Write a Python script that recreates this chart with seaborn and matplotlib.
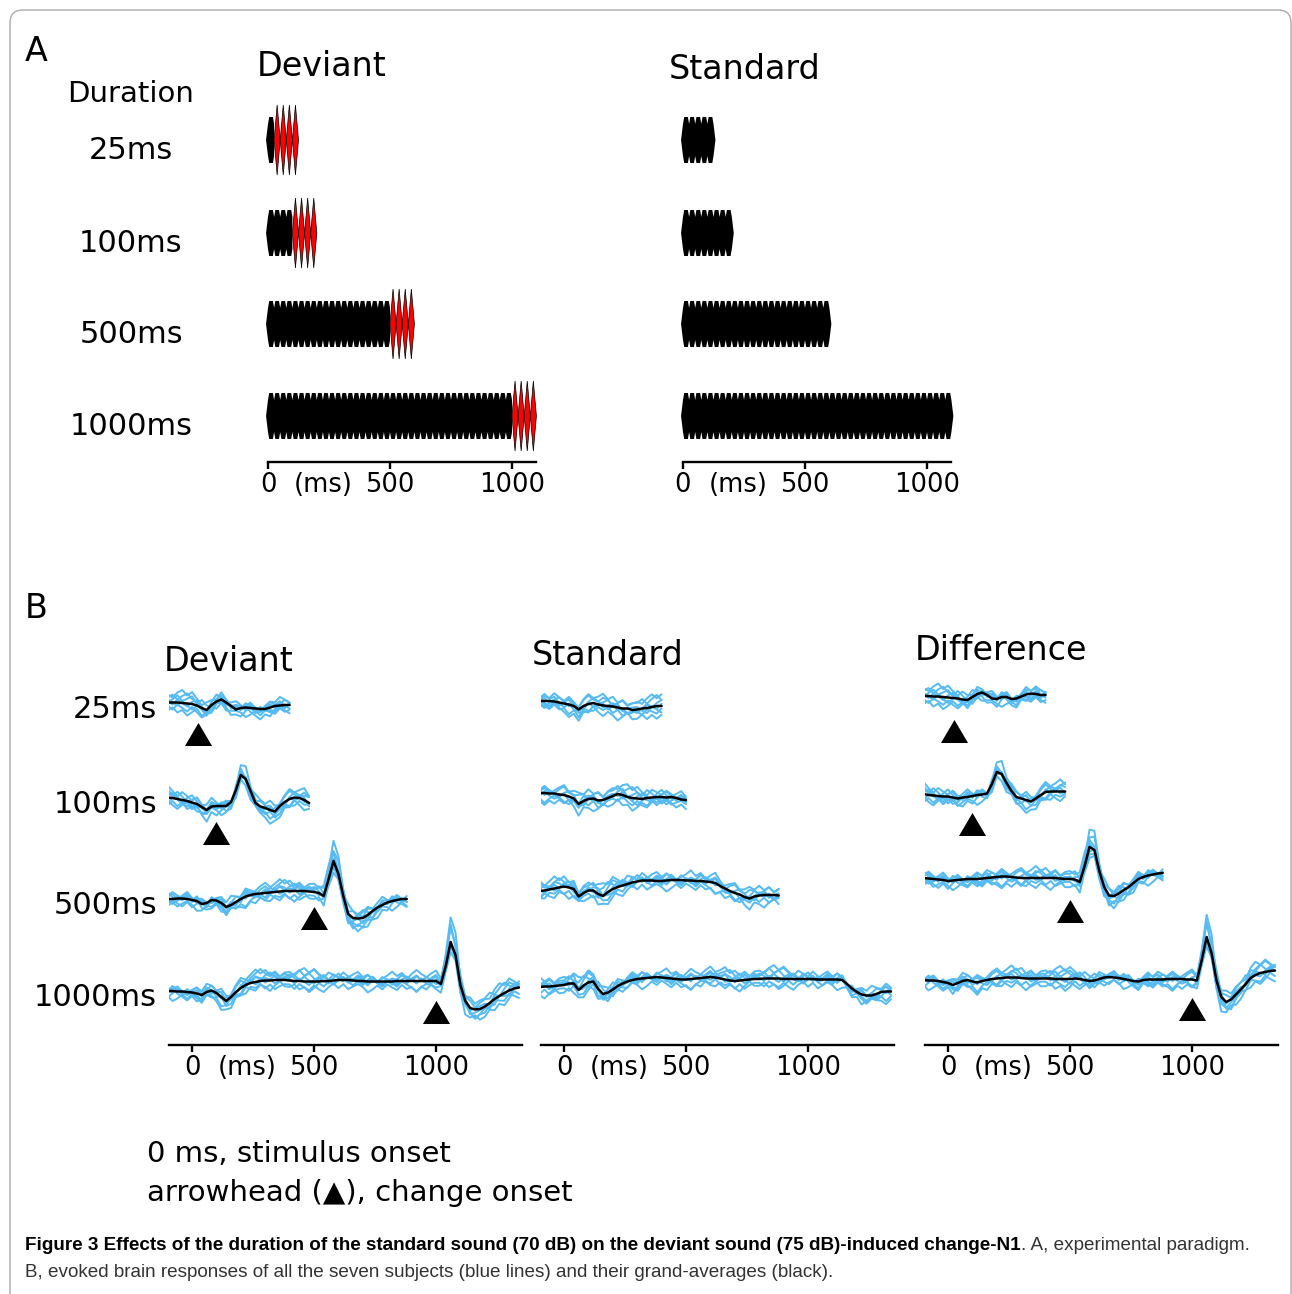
#!/usr/bin/env python3
"""
Figura 3 — efeito da duração do som padrão sobre a change-N1.
A: paradigma (trens de cliques), B: respostas evocadas (7 sujeitos + média).
"""

import matplotlib
matplotlib.use("Agg")
import matplotlib.pyplot as plt
from matplotlib.patches import FancyBboxPatch
import numpy as np
import pandas as pd
import seaborn as sns

# ── Dados ──────────────────────────────────────────────────────
DURACOES = [25, 100, 500, 1000]             # duração do som padrão (ms)
ROTULOS = ["25ms", "100ms", "500ms", "1000ms"]
PERIODO_CLIQUE = 25                          # ms por clique
DURACAO_MUDANCA = 100                        # ms de som desviante (75 dB)

PASSO = 20                                   # amostragem das curvas (ms)
INICIO = -100
FIM = {
    "Deviant": [400, 480, 880, 1340],
    "Standard": [400, 500, 880, 1340],
    "Difference": [400, 480, 880, 1340],
}

# médias gerais (unidades = px no original, positivo para cima)
DEV_25 = [0.5, 0.5, 0.5, 0, -0.5, -1, -2.5, -5, -7, -2,
          1.5, 3.5, 0.5, -3, -6.5, -5, -4.5, -5, -5.5, -6,
          -6, -4.5, -3, -2.5, -2, -2]
DEV_100 = [0.5, 0, -1, -2, -3, -4.5, -6, -9, -12, -8.5,
           -8, -8, -8, -4, 8, 23, 19, 7, -5, -8.5,
           -10, -12, -13.5, -8, -4, -1, 0.5, 0, -2, -5]
DEV_500 = [0, 0, 0.5, 0.5, 0, -1, -2, -5, -4, -1,
           -1.5, -4, -8, -6, -3, 0, 2.5, 4, 5, 5.5,
           6, 6.5, 7, 7.5, 8, 8, 8, 8, 8, 7.5,
           7, 6, 3, 20, 38, 25, 3, -15, -19, -19.5,
           -19, -16, -12, -8.5, -6, -3.5, -2, -1, 0, 0]
DEV_1000 = [0, 0, -0.5, -0.5, -1, -1.5, -2.5, -4, -1, 0.5,
            -2, -6, -10, -6, -1, 3, 6, 8, 9, 10,
            10.5, 10.5, 11, 11, 11, 10.5, 10, 10, 9.5, 9.5,
            9.5, 9.5, 10, 10, 10.5, 11, 11, 11, 10.5, 10,
            10, 9.5, 9.5, 9.5, 9.5, 9.5, 9.5, 10, 10, 10,
            10, 10, 10, 10, 10, 10, 7, 25, 49, 36,
            6, -10, -17, -18.5, -18, -15.5, -12, -8, -5, -2,
            0.5, 2.5, 3.5]

STD_25 = [0, 0, 0, -0.5, -1.5, -2.5, -3.5, -5, -8.5, -5,
          -3, -2, -3.5, -4.5, -5, -5.5, -6.5, -7.5, -7.5, -9,
          -8.5, -7.5, -7, -6, -5, -5]
STD_100 = [0, 0, -0.5, -0.5, -1.5, -2, -3.5, -5.5, -11, -8,
           -6, -5.5, -7.5, -7, -5, -3, -1, -2, -4, -5,
           -5.5, -6, -5, -4.5, -4, -4, -4.5, -4, -5, -6.5,
           -7]
STD_500 = [0, 0.5, 1.5, 2.5, 3.5, 4.5, 3.5, 2, -5.5, -2,
           0.5, 0.5, -3, -5, -1, 2, 4, 5.5, 7, 8.5,
           9.5, 10.5, 10.5, 10.5, 10, 10, 10.5, 11, 11, 11,
           10.5, 10.5, 10, 10, 9.5, 9, 8, 5, 2.5, 0,
           -2, -3.5, -6, -7.5, -5.5, -4.5, -4, -4, -4, -4.5]
STD_1000 = [0, 0.5, 0.5, 1, 1.5, 2, 3.5, 3.5, -3, 1.5,
            4.5, 5.5, -2, -7, -5.5, -2.5, 1, 3.5, 5.5, 7,
            8, 8.5, 9, 9.5, 10, 9.5, 9, 8.5, 8, 7.5,
            7.5, 8, 8.5, 9, 9.5, 10, 9.5, 8.5, 7.5, 6.5,
            6, 6.5, 7, 7.5, 8, 8, 8.5, 8.5, 8.5, 8.5,
            8, 8, 8, 8, 8, 8, 8, 7.5, 7.5, 7.5,
            7.5, 7.5, 7, 3, -1.5, -5, -7.5, -8.5, -8.5, -7,
            -5, -4.5, -4.5]

DIF_25 = [0, 0, -0.5, -0.5, -1, -1.5, -2, -2.5, -3.5, -4,
          -1, 2, 3.5, 1, -2.5, -3, -1, -1, -3, -2.5,
          -0.5, 1.5, 2.5, 2, 1, 1]
DIF_100 = [0, -1, -1.5, -2, -2.5, -2.5, -3.5, -4.5, -3.5, -3,
           -2, -1, -0.5, 0.5, 10, 22, 20, 11, 3, -3,
           -4.5, -6, -7.5, -4.5, -1, 2, 2.5, 2.5, 2.5, 2.5]
DIF_500 = [0, -0.5, -1, -1.5, -2, -3, -2.5, -2, -1.5, -1,
           -1, -1, -0.5, 0, 0.5, 1, 1.5, 1.5, 1, 0.5,
           0, 0, 0, 0, 0, 0, 0, 0, -0.5, -1,
           -1, -1.5, -4, 12, 31, 28, 7, -9, -17.5, -18,
           -15.5, -12, -9, -5, -1, 1, 2.5, 3.5, 4.5, 5]
DIF_1000 = [0, -0.5, -0.5, -1, -2, -3, -5, -3, -1, 0,
            -1.5, -2.5, -1, 0, 1, 1.5, 2, 2.5, 2.5, 2.5,
            2, 1.5, 1.5, 1.5, 1.5, 1.5, 1.5, 1, 1, 1,
            1, 1.5, 1, 0, -1, -0.5, 1, 2.5, 3, 2.5,
            2, 1, 0, -1, -1.5, 0, 0.5, 0.5, 0.5, 0.5,
            1, 1, 1, 1, 0.5, 0.5, -0.5, 20, 43, 27,
            0, -17, -22, -19.5, -14.5, -9.5, -4, 2, 5, 7,
            8, 9, 9.5]

MEDIAS = {
    "Deviant": [DEV_25, DEV_100, DEV_500, DEV_1000],
    "Standard": [STD_25, STD_100, STD_500, STD_1000],
    "Difference": [DIF_25, DIF_100, DIF_500, DIF_1000],
}

# sujeitos: ganho individual sobre a média + desvio próprio
GANHOS = [0.8, 0.9, 0.95, 1.05, 1.15, 1.3, 1.4]
DESVIOS = [
    [5, 8, 3, 7, 10, 5, 2, 7, 3, -2, 2, 5, 0, 3, 7, 2, -2, 3, 0, -3,
     2, 5, 3, 8, 5, 2, 7, 3, 0, 5, 8, 3, 2, 7, 5, 0, 3, 7, 2, 5],
    [-3, -7, -2, -5, -8, -3, -7, -10, -5, -2, -7, -3, -8, -5, -2, -5, -10, -7, -3, -7,
     -2, -5, -8, -3, -7, -5, -10, -5, -2, -3, -7, -8, -3, -5, -2, -7, -3, -8, -5, -3],
    [2, -2, 3, 0, -3, 2, 5, 0, -2, 3, 7, 2, -2, 0, 3, -2, 2, 5, 0, -3,
     0, 3, -2, 2, 5, 2, -2, 3, 0, -2, 2, 5, 3, -2, 0, 3, 2, -3, 0, 2],
    [8, 5, 10, 13, 8, 12, 7, 3, 8, 5, 2, 7, 3, 0, 5, 2, -2, 3, 0, -3,
     2, -2, -5, 0, -3, 2, 5, 0, 3, 7, 10, 5, 8, 12, 7, 10, 5, 8, 3, 7],
    [-8, -5, -10, -7, -12, -8, -3, -7, -2, -5, 0, -3, 2, -2, 3, 0, 5, 2, -2, 3,
     0, -3, -7, -2, -5, -8, -12, -7, -10, -5, -8, -3, -7, -10, -5, -8, -12, -7, -3, -8],
    [3, 0, -3, 2, -2, -5, 0, 3, -2, -7, -3, 0, -5, -8, -3, -7, -2, 2, -3, 0,
     3, 7, 2, 5, 0, -3, 2, -2, -5, -2, 2, -3, 0, 3, -2, 2, 5, 0, -3, 0],
    [0, 3, 7, 2, 5, 8, 3, 0, -3, 2, -2, -5, -2, 2, 5, 0, 3, -2, -5, -8,
     -3, -7, -2, 2, -2, 3, 7, 3, 0, -3, -7, -2, 2, 5, 8, 3, 0, 3, -2, 2],
]

# ── Layout (px da figura) ──────────────────────────────────────
W, H = 1292, 1294
PX_MS = 0.244
AZUL = "#55BBF2"
ORIGEM_B = {"Deviant": 192, "Standard": 564, "Difference": 948}
BASE_B = {"Deviant": [703, 798, 899, 991],
          "Standard": [701, 793, 891, 987],
          "Difference": [696, 794, 878, 980]}
QUEDA_TRI = {"Deviant": [31, 35, 19, 21], "Difference": [35, 29.5, 33, 28.5]}
EIXO_B = 1045
CENTROS_A = [140, 233, 324, 416]
EIXO_A = 462

sns.set_theme(style="white")
plt.rcParams.update({
    "font.family": ["DejaVu Sans"],
    "text.color": "black",
    "xtick.color": "black",
    "axes.edgecolor": "black",
})


def fx(x):
    return x / W


def fy(y):
    return 1 - y / H


def eixo_tempo(ax, ticks_fs=18.5):
    for lado in ["left", "top", "right"]:
        ax.spines[lado].set_visible(False)
    ax.spines["bottom"].set_linewidth(1.7)
    ax.set_xticks([0, 500, 1000])
    ax.set_xticklabels(["0", "500", "1000"])
    ax.set_xticks([225], minor=True)
    ax.set_xticklabels(["(ms)"], minor=True)
    ax.tick_params(axis="x", which="major", direction="out", length=5,
                   width=1.7, pad=2, labelsize=ticks_fs, bottom=True)
    ax.tick_params(axis="x", which="minor", length=0, pad=7, labelsize=ticks_fs,
                   bottom=True)
    ax.set_yticks([])
    ax.set_xlabel("")
    ax.set_ylabel("")
    ax.patch.set_alpha(0)


def envelope_cliques(n, periodo, alt, cauda):
    topo = [(-8, 0.0)]
    for k in range(n):
        t0 = k * periodo
        topo += [(t0, 0.7 * alt), (t0 + 0.2 * periodo, alt), (t0 + 0.8 * periodo, alt)]
    topo.append((n * periodo, 0.7 * alt))
    if cauda:
        topo.append((n * periodo + 8, 0.0))
    fundo = [(t, -y) for t, y in reversed(topo)]
    xs, ys = zip(*(topo + fundo))
    return np.array(xs), np.array(ys)


def painel_a(fig):
    largura = 1100 * PX_MS
    for nome, x0 in [("Deviant", 268), ("Standard", 683)]:
        ax = fig.add_axes([fx(x0), fy(EIXO_A), largura / W, (EIXO_A - 90) / H])
        ax.set_xlim(0, 1100)
        ax.set_ylim(0, EIXO_A - 90)
        for dur, cy in zip(DURACOES, CENTROS_A):
            yc = EIXO_A - cy
            if nome == "Deviant":
                n = dur // PERIODO_CLIQUE
                xs, ys = envelope_cliques(n, PERIODO_CLIQUE, 23, cauda=False)
                ax.fill(xs, ys + yc, color="black", lw=0, clip_on=False)
                for j in range(DURACAO_MUDANCA // PERIODO_CLIQUE):
                    t0 = dur + j * PERIODO_CLIQUE
                    p = PERIODO_CLIQUE
                    ax.fill([t0, t0 + p / 2, t0 + p, t0 + p / 2],
                            [yc, yc + 35, yc, yc - 35],
                            fc="#ff0000", ec="black", lw=0.5, clip_on=False, zorder=3)
            else:
                n = (dur + DURACAO_MUDANCA) // PERIODO_CLIQUE
                xs, ys = envelope_cliques(n, PERIODO_CLIQUE, 23, cauda=True)
                ax.fill(xs, ys + yc, color="black", lw=0, clip_on=False)
        eixo_tempo(ax)


def painel_b(fig):
    largura = (1352 + 95) * PX_MS
    for c, nome in enumerate(["Deviant", "Standard", "Difference"]):
        x0 = ORIGEM_B[nome]
        ax = fig.add_axes([fx(x0 - 95 * PX_MS), fy(EIXO_B), largura / W, 400 / H])
        ax.set_xlim(-95, 1352)
        ax.set_ylim(0, 400)

        sujeitos, medias = [], []
        for r in range(4):
            t = np.arange(INICIO, FIM[nome][r] + 1, PASSO)
            ga = np.array(MEDIAS[nome][r], dtype=float)
            base = EIXO_B - BASE_B[nome][r]
            medias.append(pd.DataFrame({"t": t, "y": base + ga, "linha": r}))
            desloc = 5 * (c * 4 + r)
            for k, (g, dv) in enumerate(zip(GANHOS, DESVIOS)):
                d = np.array([dv[(j + desloc) % len(dv)] for j in range(len(t))])
                sujeitos.append(pd.DataFrame({"t": t, "y": base + g * ga + d,
                                              "linha": f"{r}-{k}"}))
        df_s = pd.concat(sujeitos, ignore_index=True)
        df_m = pd.concat(medias, ignore_index=True)
        sns.lineplot(data=df_s, x="t", y="y", units="linha", estimator=None,
                     color=AZUL, lw=1.4, sort=False, ax=ax, legend=False)
        sns.lineplot(data=df_m, x="t", y="y", units="linha", estimator=None,
                     color="black", lw=1.8, sort=False, ax=ax, legend=False)

        if nome in QUEDA_TRI:
            tri = [(-1, -0.85), (1, -0.85), (0, 0.85), (-1, -0.85)]
            ys = [EIXO_B - b - q for b, q in zip(BASE_B[nome], QUEDA_TRI[nome])]
            ax.plot(DURACOES, ys, ls="none", marker=tri, ms=19.5,
                    color="black", mew=0, clip_on=False)
        eixo_tempo(ax)


def legenda(fig):
    r = fig.canvas.get_renderer()
    fam = ["Liberation Sans Narrow", "Liberation Sans"]

    def ajusta(txt, alvo):
        bb = txt.get_window_extent(r)
        txt.set_fontsize(txt.get_fontsize() * alvo / bb.width)

    negrito = ("Figure 3 Effects of the duration of the standard sound (70 dB) on the "
               "deviant sound (75 dB)-induced change-N1")
    normal = ". A, experimental paradigm."
    t1 = fig.text(fx(25), fy(1250), negrito + normal, family=fam, fontsize=14,
                  weight="bold")
    ajusta(t1, 1250)
    fs = t1.get_fontsize()
    t1.set_text(negrito)
    w1 = t1.get_window_extent(r).width
    fig.text(fx(25 + w1), fy(1250), normal, family=fam, fontsize=fs,
             color="#333333")
    t2 = fig.text(fx(25), fy(1277), "B, evoked brain responses of all the seven "
                  "subjects (blue lines) and their grand-averages (black).",
                  family=fam, fontsize=fs, color="#333333")
    ajusta(t2, 807)


def main():
    fig = plt.figure(figsize=(W / 100, H / 100), dpi=100)

    moldura = FancyBboxPatch((fx(10), fy(1320)), fx(1291) - fx(10), fy(10) - fy(1320),
                             boxstyle="round,pad=0,rounding_size=0.01",
                             transform=fig.transFigure, fill=False,
                             ec="#aaaaaa", lw=1)
    fig.add_artist(moldura)

    # textos do painel A
    fig.text(fx(25), fy(61), "A", fontsize=24)
    fig.text(fx(257), fy(76), "Deviant", fontsize=24)
    fig.text(fx(669), fy(79), "Standard", fontsize=24)
    fig.text(fx(67), fy(102), "Duration", fontsize=21)
    for rot, cy in zip(ROTULOS, CENTROS_A):
        fig.text(fx(131), fy(cy + 19), rot, fontsize=22, ha="center")

    # textos do painel B
    fig.text(fx(25), fy(618), "B", fontsize=24)
    fig.text(fx(164), fy(671), "Deviant", fontsize=24)
    fig.text(fx(532), fy(665), "Standard", fontsize=24)
    fig.text(fx(915), fy(660), "Difference", fontsize=24)
    for rot, b in zip(ROTULOS, BASE_B["Deviant"]):
        fig.text(fx(157), fy(b + 15), rot, fontsize=22, ha="right")

    fig.text(fx(147), fy(1162), "0 ms, stimulus onset", fontsize=21)
    fig.text(fx(147), fy(1201), "arrowhead (\u25B2), change onset", fontsize=21)

    painel_a(fig)
    painel_b(fig)
    legenda(fig)

    fig.savefig("out.png", dpi=100)
    plt.close(fig)


if __name__ == "__main__":
    main()
